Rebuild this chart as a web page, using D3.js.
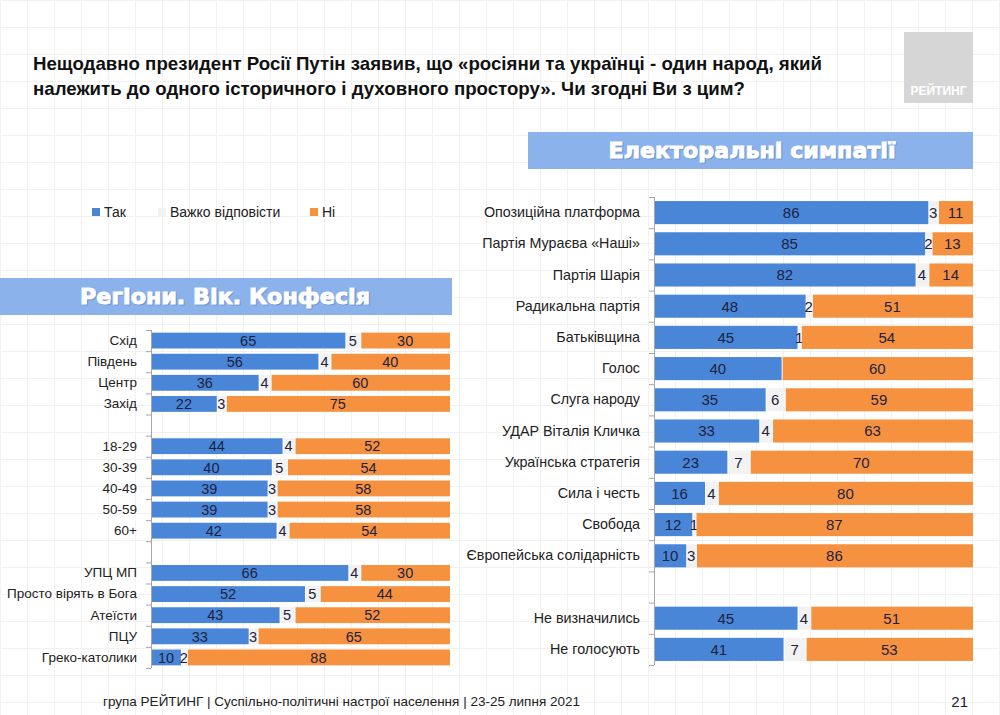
<!DOCTYPE html>
<html>
<head>
<meta charset="utf-8">
<script src="https://cdn.jsdelivr.net/npm/d3@7"></script>
<style>
  body { margin: 0; background: #fff; }
  svg { display: block; font-family: "Liberation Sans", Arial, sans-serif; }
</style>
</head>
<body>
<svg width="1000" height="715"></svg>
<script>
// left chart: regions, age, confession ("" entries are empty rows)
var leftCats = ["Схід", "Південь", "Центр", "Захід", "",
  "18-29", "30-39", "40-49", "50-59", "60+", " ",
  "УПЦ МП", "Просто вірять в Бога", "Атеїсти", "ПЦУ", "Греко-католики"];
var leftYes  = [65, 56, 36, 22, null, 44, 40, 39, 39, 42, null, 66, 52, 43, 33, 10];
var leftHard = [5, 4, 4, 3, null, 4, 5, 3, 3, 4, null, 4, 5, 5, 3, 2];
var leftNo   = [30, 40, 60, 75, null, 52, 54, 58, 58, 54, null, 30, 44, 52, 65, 88];

// right chart: electoral sympathies
var rightCats = ["Опозиційна платформа", "Партія Мураєва «Наші»", "Партія Шарія",
  "Радикальна партія", "Батьківщина", "Голос", "Слуга народу", "УДАР Віталія Кличка",
  "Українська стратегія", "Сила і честь", "Свобода", "Європейська солідарність", "",
  "Не визначились", "Не голосують"];
var rightYes  = [86, 85, 82, 48, 45, 40, 35, 33, 23, 16, 12, 10, null, 45, 41];
var rightHard = [3, 2, 4, 2, 1, 0, 6, 4, 7, 4, 1, 3, null, 4, 7];
var rightNo   = [11, 13, 14, 51, 54, 60, 59, 63, 70, 80, 87, 86, null, 51, 53];

var keys = ["Так", "Важко відповісти", "Ні"];
var colors = ["#4a86d8", "#f2f2f2", "#f6923f"];

var svg = d3.select("svg");
var z = d3.scaleOrdinal().domain(keys).range(colors);

// faint background grid
var grid = svg.append("g").attr("stroke", "#f1f1f1").attr("stroke-width", 1);
d3.range(0, 1000, 27).forEach(function(x) {
  grid.append("line").attr("x1", x + 0.5).attr("x2", x + 0.5).attr("y1", 0).attr("y2", 715);
});
d3.range(0, 715, 27).forEach(function(y) {
  grid.append("line").attr("x1", 0).attr("x2", 1000).attr("y1", y + 0.5).attr("y2", y + 0.5);
});

// title
var titleFont = "'Liberation Sans Narrow', 'Arial Narrow', 'Liberation Sans', sans-serif";
svg.append("text").attr("x", 33).attr("y", 70)
  .attr("font-family", titleFont).attr("font-weight", "bold").attr("font-size", 19)
  .attr("fill", "#111").attr("textLength", 789).attr("lengthAdjust", "spacingAndGlyphs")
  .text("Нещодавно президент Росії Путін заявив, що «росіяни та українці - один народ, який");
svg.append("text").attr("x", 33).attr("y", 95)
  .attr("font-family", titleFont).attr("font-weight", "bold").attr("font-size", 19)
  .attr("fill", "#111").attr("textLength", 712).attr("lengthAdjust", "spacingAndGlyphs")
  .text("належить до одного історичного і духовного простору». Чи згодні Ви з цим?");

// logo box
svg.append("rect").attr("x", 904).attr("y", 32).attr("width", 69).attr("height", 71).attr("fill", "#d6d6d6");
svg.append("text").attr("x", 938.5).attr("y", 95).attr("text-anchor", "middle")
  .attr("font-family", titleFont).attr("font-weight", "bold").attr("font-size", 12)
  .attr("fill", "#fff").text("РЕЙТИНГ");

// banners
function banner(x, w, y, label, cx, len) {
  svg.append("rect").attr("x", x).attr("y", y).attr("width", w).attr("height", 37).attr("fill", "#8cb2ec");
  [["#7397cc", 1.2], ["#fff", 0]].forEach(function(s) {
    svg.append("text").attr("x", cx - len / 2 + s[1]).attr("y", y + 26 + s[1])
      .attr("font-family", "'DejaVu Sans', sans-serif").attr("font-weight", "bold").attr("font-size", 21)
      .attr("textLength", len).attr("lengthAdjust", "spacingAndGlyphs")
      .attr("fill", s[0]).attr("stroke", s[0]).attr("stroke-width", 0.9).text(label);
  });
}
banner(528, 445, 132, "Електоральні симпатії", 752, 287);
banner(0, 452, 278, "Регіони. Вік. Конфесія", 225, 290);

// legend
var legend = svg.append("g").attr("font-size", 14).attr("fill", "#222")
  .selectAll("g").data(keys).enter().append("g")
  .attr("transform", function(d, i) { return "translate(" + [92, 158, 310][i] + ",212)"; });
legend.append("rect").attr("y", -4).attr("width", 8).attr("height", 8).attr("fill", z);
legend.append("text").attr("x", 12).attr("dy", "0.35em").text(function(d) { return d; });

function chart(cats, yes, hard, no, x0, x1, y0, y1, pad, labelSize, valueSize) {
  var rows = cats.map(function(c, i) {
    return { cat: c, "Так": yes[i], "Важко відповісти": hard[i], "Ні": no[i] };
  });
  var y = d3.scaleBand().domain(cats).range([y0, y1]).paddingInner(pad).paddingOuter(pad / 2);
  var x = d3.scaleLinear().domain([0, 1]).range([x0, x1]);
  var data = rows.filter(function(d) { return d["Так"] != null; });
  var series = d3.stack().keys(keys).offset(d3.stackOffsetExpand)(data);
  series.forEach(function(s) { s.forEach(function(e) { e.key = s.key; }); });
  var g = svg.append("g");

  var layer = g.selectAll("g.layer").data(series).enter().append("g")
    .attr("class", "layer").attr("fill", function(d) { return z(d.key); });
  layer.selectAll("rect").data(function(d) { return d; }).enter().append("rect")
    .attr("x", function(d) { return x(d[0]) + 1; })
    .attr("y", function(d) { return y(d.data.cat); })
    .attr("width", function(d) { return Math.max(0, x(d[1]) - x(d[0]) - 1); })
    .attr("height", y.bandwidth());

  layer.selectAll("text").data(function(d) { return d.filter(function(e) { return e.data[e.key] > 0; }); })
    .enter().append("text")
    .attr("x", function(d) { return (x(d[0]) + x(d[1])) / 2; })
    .attr("y", function(d) { return y(d.data.cat) + y.bandwidth() / 2; })
    .attr("dy", "0.36em").attr("text-anchor", "middle")
    .attr("font-size", valueSize).attr("fill", "#1c2240")
    .text(function(d) { return d.data[d.key]; });

  // category axis
  g.append("g").attr("transform", "translate(" + x0 + ",0)")
    .call(d3.axisLeft(y).tickSize(0).tickPadding(14))
    .call(function(a) { a.select(".domain").remove(); })
    .call(function(a) { a.selectAll("text").attr("font-size", labelSize).attr("fill", "#222")
      .attr("font-family", "'Liberation Sans', Arial, sans-serif"); });

  g.append("line").attr("x1", x0 + 0.5).attr("x2", x0 + 0.5).attr("y1", y0).attr("y2", y1)
    .attr("stroke", "#a6a6a6");
  var step = y.step();
  g.selectAll("line.tick").data(d3.range(cats.length + 1)).enter().append("line")
    .attr("x1", x0 - 5).attr("x2", x0)
    .attr("y1", function(i) { return y0 + i * step + 0.5; })
    .attr("y2", function(i) { return y0 + i * step + 0.5; })
    .attr("stroke", "#a6a6a6");
}

chart(leftCats, leftYes, leftHard, leftNo, 151, 450, 330, 668, 0.25, 13.5, 14.5);
chart(rightCats, rightYes, rightHard, rightNo, 654, 973, 197, 665, 0.26, 14.3, 15);

// footer
svg.append("text").attr("x", 103).attr("y", 706)
  .attr("font-family", titleFont).attr("font-size", 13).attr("fill", "#222")
  .attr("textLength", 477).attr("lengthAdjust", "spacingAndGlyphs")
  .text("група РЕЙТИНГ | Суспільно-політичні настрої населення  | 23-25 липня 2021");
svg.append("text").attr("x", 968).attr("y", 707).attr("text-anchor", "end")
  .attr("font-family", titleFont).attr("font-size", 15).attr("fill", "#222").text("21");
</script>
</body>
</html>
